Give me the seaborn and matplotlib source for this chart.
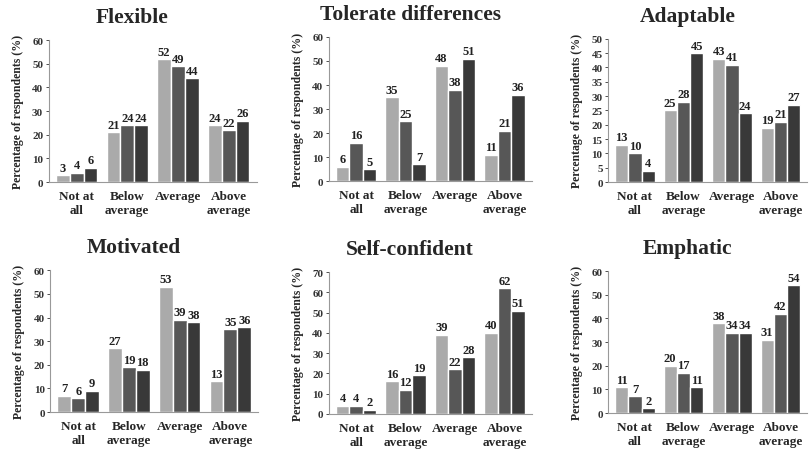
import matplotlib
matplotlib.use("Agg")
import matplotlib.pyplot as plt
import seaborn as sns
import pandas as pd

levels = ["Not at\nall", "Below\naverage", "Average", "Above\naverage"]
groups = ["Group 1", "Group 2", "Group 3"]

# values per level: [group 1, group 2, group 3]
flexible = [[3, 4, 6], [21, 24, 24], [52, 49, 44], [24, 22, 26]]
tolerate = [[6, 16, 5], [35, 25, 7], [48, 38, 51], [11, 21, 36]]
adaptable = [[13, 10, 4], [25, 28, 45], [43, 41, 24], [19, 21, 27]]
motivated = [[7, 6, 9], [27, 19, 18], [53, 39, 38], [13, 35, 36]]
self_confident = [[4, 4, 2], [16, 12, 19], [39, 22, 28], [40, 62, 51]]
emphatic = [[11, 7, 2], [20, 17, 11], [38, 34, 34], [31, 42, 54]]

titles = ["Flexible", "Tolerate differences", "Adaptable",
          "Motivated", "Self-confident", "Emphatic"]
panels = [flexible, tolerate, adaptable, motivated, self_confident, emphatic]
y_max = [60, 60, 50, 60, 70, 60]
y_step = [10, 10, 5, 10, 10, 10]

sns.set_style("white")
plt.rcParams['font.family'] = ['Liberation Serif', 'DejaVu Serif']
plt.rcParams['font.weight'] = 'bold'

palette = ["#aaaaaa", "#575757", "#393939"]

fig = plt.figure(figsize=(8.12, 4.52), dpi=100)
boxes = [
    (0.060, 0.595, 0.256, 0.314),
    (0.405, 0.597, 0.250, 0.319),
    (0.749, 0.595, 0.245, 0.317),
    (0.062, 0.086, 0.256, 0.314),
    (0.405, 0.082, 0.250, 0.314),
    (0.749, 0.084, 0.245, 0.314),
]

for i, (title, vals) in enumerate(zip(titles, panels)):
    rows = []
    for lvl, trio in zip(levels, vals):
        for g, v in zip(groups, trio):
            rows.append({"level": lvl, "group": g, "value": v})
    df = pd.DataFrame(rows)

    ax = fig.add_axes(boxes[i])
    sns.barplot(data=df, x="level", y="value", hue="group", palette=palette,
                order=levels, hue_order=groups, width=0.82, legend=False,
                saturation=1, ax=ax)
    for c in ax.containers:
        ax.bar_label(c, labels=[f"{v:.0f}" for v in c.datavalues], padding=1,
                     fontsize=9, fontweight='bold', color='#222222')

    ax.set_xlim(-0.55, 3.55)
    ax.set_ylim(0, y_max[i])
    ax.set_yticks(range(0, y_max[i] + 1, y_step[i]))
    ax.tick_params(axis='y', labelsize=8, length=2, width=0.6, pad=2,
                   colors='#333333', left=True)
    ax.tick_params(axis='x', labelsize=9.5, length=0, pad=6)
    for lab in ax.get_xticklabels() + ax.get_yticklabels():
        lab.set_fontweight('bold')
    ax.set_xlabel("")
    ax.set_ylabel("Percentage of respondents (%)", fontsize=8.5, fontweight='bold',
                  labelpad=6)
    for s in ["top", "right"]:
        ax.spines[s].set_visible(False)
    for s in ["left", "bottom"]:
        ax.spines[s].set_color('#999999')
        ax.spines[s].set_linewidth(0.8)
    ax.text(0.40, 1.0 + 23 / (boxes[i][3] * 452), title, transform=ax.transAxes,
            ha='center', va='center', fontsize=15.5, fontweight='bold')

fig.savefig("out.png", dpi=100)
